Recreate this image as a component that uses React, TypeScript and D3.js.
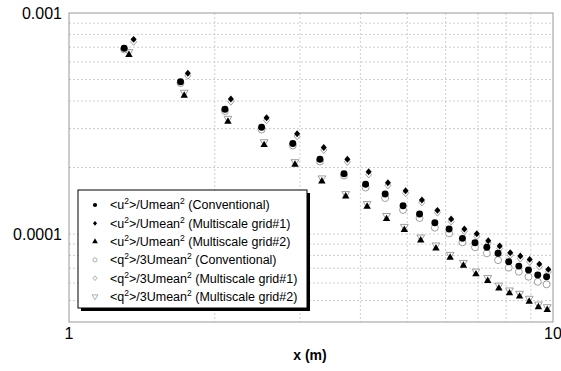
import * as d3 from 'd3'

// x positions (m) for each series
const xConv = [1.3, 1.7, 2.1, 2.5, 2.9, 3.3, 3.7, 4.1, 4.5, 4.9, 5.3, 5.7, 6.1, 6.5, 6.9, 7.3, 7.7, 8.1, 8.5, 8.9, 9.3, 9.7]
const xGrid1 = [1.36, 1.76, 2.16, 2.56, 2.96, 3.36, 3.76, 4.16, 4.56, 4.96, 5.36, 5.77, 6.16, 6.56, 6.96, 7.35, 7.76, 8.16, 8.56, 8.95, 9.37, 9.78]
const xGrid2 = [1.33, 1.73, 2.13, 2.53, 2.93, 3.33, 3.73, 4.13, 4.53, 4.93, 5.33, 5.73, 6.13, 6.53, 6.93, 7.33, 7.73, 8.13, 8.53, 8.93, 9.33, 9.73]

const u2Conv = [6.92e-4, 4.89e-4, 3.67e-4, 3.04e-4, 2.57e-4, 2.18e-4, 1.875e-4, 1.678e-4, 1.517e-4, 1.343e-4, 1.232e-4, 1.125e-4, 1.053e-4, 9.56e-5, 9.13e-5, 8.71e-5, 8.18e-5, 7.49e-5, 7.16e-5, 6.87e-5, 6.52e-5, 6.41e-5]
const u2Grid1 = [7.6e-4, 5.34e-4, 4.08e-4, 3.36e-4, 2.843e-4, 2.462e-4, 2.178e-4, 1.914e-4, 1.706e-4, 1.57e-4, 1.425e-4, 1.28e-4, 1.169e-4, 1.053e-4, 1.003e-4, 9.33e-5, 8.83e-5, 8.23e-5, 7.95e-5, 7.68e-5, 7.31e-5, 6.92e-5]
const u2Grid2 = [6.47e-4, 4.23e-4, 3.23e-4, 2.53e-4, 2.06e-4, 1.73e-4, 1.48e-4, 1.33e-4, 1.17e-4, 1.045e-4, 9.37e-5, 8.62e-5, 7.83e-5, 7.2e-5, 6.58e-5, 6.14e-5, 5.68e-5, 5.4e-5, 5.22e-5, 4.95e-5, 4.67e-5, 4.54e-5]
const q2Conv = [6.84e-4, 4.82e-4, 3.6e-4, 2.97e-4, 2.515e-4, 2.129e-4, 1.839e-4, 1.623e-4, 1.455e-4, 1.284e-4, 1.181e-4, 1.068e-4, 1.007e-4, 9.17e-5, 8.71e-5, 8.18e-5, 7.62e-5, 7.04e-5, 6.75e-5, 6.41e-5, 6.08e-5, 5.92e-5]
const q2Grid1 = [7.4e-4, 5.2e-4, 3.97e-4, 3.27e-4, 2.77e-4, 2.4e-4, 2.12e-4, 1.86e-4, 1.66e-4, 1.53e-4, 1.39e-4, 1.25e-4, 1.14e-4, 1.03e-4, 9.77e-5, 9.09e-5, 8.6e-5, 8.02e-5, 7.74e-5, 7.48e-5, 7.12e-5, 6.74e-5]
const q2Grid2 = [6.67e-4, 4.37e-4, 3.33e-4, 2.61e-4, 2.12e-4, 1.79e-4, 1.52e-4, 1.37e-4, 1.21e-4, 1.08e-4, 9.67e-5, 8.9e-5, 8.07e-5, 7.42e-5, 6.78e-5, 6.34e-5, 5.86e-5, 5.57e-5, 5.38e-5, 5.11e-5, 4.81e-5, 4.68e-5]

const legendLabels = [
  ['<u', '>/Umean', ' (Conventional)'],
  ['<u', '>/Umean', ' (Multiscale grid#1)'],
  ['<u', '>/Umean', ' (Multiscale grid#2)'],
  ['<q', '>/3Umean', ' (Conventional)'],
  ['<q', '>/3Umean', ' (Multiscale grid#1)'],
  ['<q', '>/3Umean', ' (Multiscale grid#2)'],
]
const xTickLabels = ['1', '10']
const yTickLabels = ['0.001', '0.0001']

const W = 561
const H = 371
const left = 69, right = 553, top = 13, bottom = 322

type Marker = 'circle' | 'diamond' | 'triangle' | 'invtriangle'

function symbolPath(kind: Marker, size: number) {
  if (kind === 'diamond') {
    const a = Math.sqrt(size) * 0.55
    const b = a * 1.15
    return `M0,${-b}L${a},0L0,${b}L${-a},0Z`
  }
  const t = kind === 'circle' ? d3.symbolCircle : d3.symbolTriangle
  return d3.symbol().type(t).size(size)() as string
}

export default function App() {
  const x = d3.scaleLog().domain([1, 10]).range([left, right])
  const y = d3.scaleLog().domain([4e-5, 1e-3]).range([bottom, top])

  const xGrid = d3.range(2, 10)
  const yGrid = [5e-5, 6e-5, 7e-5, 8e-5, 9e-5, 1e-4, 2e-4, 3e-4, 4e-4, 5e-4, 6e-4, 7e-4, 8e-4, 9e-4]

  // drawn in this order: open markers first, filled on top
  const series = [
    { xs: xGrid2, ys: q2Grid2, m: 'invtriangle' as Marker, fill: 'white', stroke: '#888', size: 26 },
    { xs: xGrid1, ys: q2Grid1, m: 'diamond' as Marker, fill: 'white', stroke: '#888', size: 30 },
    { xs: xConv, ys: q2Conv, m: 'circle' as Marker, fill: 'white', stroke: '#888', size: 38 },
    { xs: xGrid2, ys: u2Grid2, m: 'triangle' as Marker, fill: 'black', stroke: 'none', size: 24 },
    { xs: xGrid1, ys: u2Grid1, m: 'diamond' as Marker, fill: 'black', stroke: 'none', size: 30 },
    { xs: xConv, ys: u2Conv, m: 'circle' as Marker, fill: 'black', stroke: 'none', size: 38 },
  ]

  const legendMarkers = [
    { m: 'circle' as Marker, fill: 'black', stroke: 'none' },
    { m: 'diamond' as Marker, fill: 'black', stroke: 'none' },
    { m: 'triangle' as Marker, fill: 'black', stroke: 'none' },
    { m: 'circle' as Marker, fill: 'white', stroke: '#999' },
    { m: 'diamond' as Marker, fill: 'white', stroke: '#999' },
    { m: 'invtriangle' as Marker, fill: 'white', stroke: '#999' },
  ]

  const font = 'Liberation Sans, Arial, Helvetica, sans-serif'
  const lgX = 78, lgY = 190, lgW = 229, lgH = 118

  return (
    <svg width={W} height={H} style={{ position: 'absolute', left: 0, top: 0 }} fontFamily={font}>
      <rect width={W} height={H} fill="white" />
      {xGrid.map(v => (
        <line key={'gx' + v} x1={x(v)} x2={x(v)} y1={top} y2={bottom} stroke="#cfcfcf" strokeDasharray="2,2" />
      ))}
      {yGrid.map(v => (
        <line key={'gy' + v} x1={left} x2={right} y1={y(v)} y2={y(v)} stroke="#cfcfcf" strokeDasharray="2,2" />
      ))}
      <rect x={left} y={top} width={right - left} height={bottom - top} fill="none" stroke="#999" />

      {series.map((s, i) => (
        <g key={'s' + i}>
          {s.xs.map((xv, j) => (
            <path
              key={j}
              d={symbolPath(s.m, s.size)}
              transform={`translate(${x(xv)},${y(s.ys[j])})${s.m === 'invtriangle' ? ' rotate(180)' : ''}`}
              fill={s.fill}
              stroke={s.stroke}
              strokeWidth={0.8}
            />
          ))}
        </g>
      ))}

      {/* y tick labels */}
      <text x={62} y={y(1e-3)} dy="0.35em" textAnchor="end" fontSize={16}>{yTickLabels[0]}</text>
      <text x={62} y={y(1e-4)} dy="0.35em" textAnchor="end" fontSize={16}>{yTickLabels[1]}</text>
      {/* x tick labels */}
      <text x={x(1)} y={339} textAnchor="middle" fontSize={16}>{xTickLabels[0]}</text>
      <text x={x(10)} y={339} textAnchor="middle" fontSize={16}>{xTickLabels[1]}</text>
      <text x={310} y={360} textAnchor="middle" fontSize={14} fontWeight="bold">x (m)</text>

      {/* legend */}
      <rect x={lgX + 3} y={lgY + 3} width={lgW} height={lgH} fill="black" />
      <rect x={lgX} y={lgY} width={lgW} height={lgH} fill="white" stroke="black" />
      {legendLabels.map((l, i) => {
        const ly = 205 + i * 18.3
        const mk = legendMarkers[i]
        return (
          <g key={'l' + i}>
            <path
              d={symbolPath(mk.m, 14)}
              transform={`translate(95,${ly})${mk.m === 'invtriangle' ? ' rotate(180)' : ''}`}
              fill={mk.fill}
              stroke={mk.stroke}
              strokeWidth={0.8}
            />
            <text x={110} y={ly} dy="0.35em" fontSize={12.5}>
              {l[0]}
              <tspan fontSize={8.5} dy={-5}>2</tspan>
              <tspan dy={5}>{l[1]}</tspan>
              <tspan fontSize={8.5} dy={-5}>2</tspan>
              <tspan dy={5}>{l[2]}</tspan>
            </text>
          </g>
        )
      })}
    </svg>
  )
}
